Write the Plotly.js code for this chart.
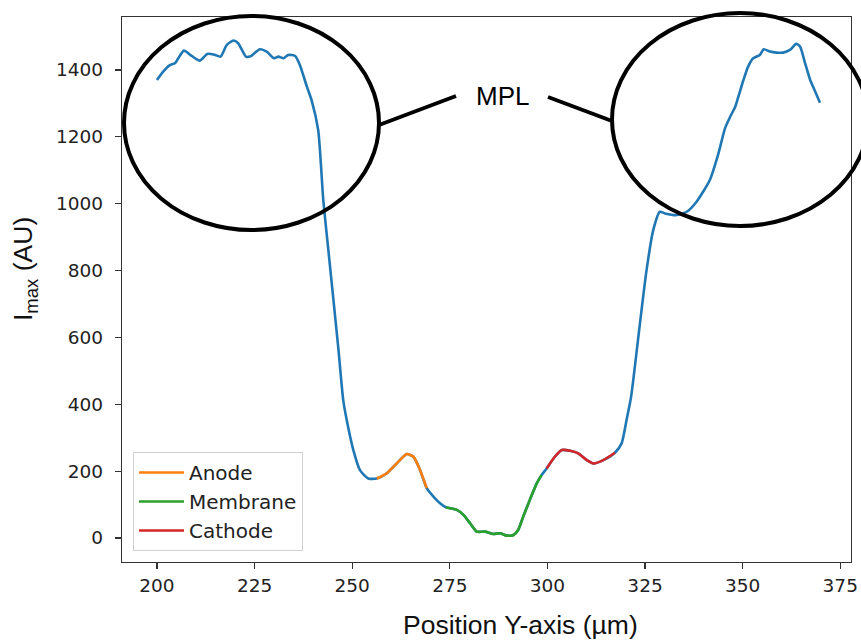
<!DOCTYPE html>
<html>
<head>
<meta charset="utf-8">
<script src="https://cdn.plot.ly/plotly-3.0.1.min.js"></script>
<style>html,body{margin:0;padding:0;background:#fff;}#chart{width:861px;height:640px;}</style>
</head>
<body>
<div id="chart"></div>
<script>
// Position along Y-axis (µm)
const positionUm = [
  200.0, 201.6, 203.4, 204.6, 206.9, 208.9, 211.0, 212.9, 214.9, 216.3,
  217.9, 219.6, 220.8, 222.8, 223.8, 226.4, 228.1, 230.0, 231.1, 232.4,
  233.6, 235.4, 236.6, 238.4, 239.6, 241.3, 242.6, 243.9, 245.2, 246.5,
  247.7, 248.6, 250.3, 252.0, 254.1, 256.3, 258.8, 261.4, 264.0, 265.7,
  267.4, 269.1, 270.8, 272.5, 274.0, 275.1, 276.8, 278.5, 280.2, 281.9,
  284.0, 286.1, 287.9, 289.6, 291.3, 292.5, 293.8, 295.5, 297.3, 298.5,
  299.8, 301.9, 303.7, 305.8, 307.9, 310.1, 311.8, 314.3, 317.3, 319.0,
  320.3, 321.4, 322.2, 323.7, 325.4, 327.1, 328.8, 330.1, 333.1, 335.7,
  338.2, 341.6, 343.7, 345.5, 346.8, 348.1, 348.9, 350.2, 351.4, 352.7,
  354.4, 355.4, 357.0, 358.7, 360.4, 362.1, 363.7, 364.7, 366.0, 367.3,
  368.6, 369.8
];
// Imax (AU)
const imax = [
  1370, 1395, 1415, 1420, 1458, 1442, 1428, 1448, 1445, 1440,
  1475, 1488, 1480, 1440, 1440, 1462, 1455, 1435, 1440, 1435,
  1445, 1442, 1415, 1350, 1310, 1220, 1011, 861, 712, 562,
  413, 353, 263, 203, 178, 178, 193, 223, 251, 243,
  203, 149, 124, 104, 92, 89, 84, 69, 44, 19,
  19, 12, 14, 7, 9, 24, 64, 114, 164, 188,
  208, 243, 263, 261, 253, 233, 223, 233, 255, 283,
  355, 420, 493, 642, 802, 921, 976, 971, 966, 976,
  1006, 1071, 1146, 1226, 1260, 1290, 1320, 1370, 1410, 1435,
  1445, 1462, 1455, 1452, 1452, 1460, 1478, 1470, 1420, 1370,
  1335, 1302
];
// Layer segments (position range, µm)
const layerNames = ["Anode", "Membrane", "Cathode"];
const anodeRange = [256.3, 269.1];
const membraneRange = [274.0, 298.5];
const cathodeRange = [299.8, 317.3];
const xTicks = [200, 225, 250, 275, 300, 325, 350, 375];
const yTicks = [0, 200, 400, 600, 800, 1000, 1200, 1400];
const xTitle = "Position Y-axis (µm)";
const yTitle = "I<sub>max</sub> (AU)";
const annotationText = "MPL";

function segment(range) {
  const xs = [], ys = [];
  positionUm.forEach((x, i) => {
    if (x >= range[0] - 1e-9 && x <= range[1] + 1e-9) { xs.push(x); ys.push(imax[i]); }
  });
  return {x: xs, y: ys};
}

const colors = ["#ff7f0e", "#2ca02c", "#d62728"];
const ranges = [anodeRange, membraneRange, cathodeRange];
const LW = 2.6;

const traces = [{
  x: positionUm, y: imax, type: "scatter", mode: "lines",
  line: {color: "#1f77b4", width: LW, shape: "spline", smoothing: 0.6},
  showlegend: false, hoverinfo: "skip"
}];
ranges.forEach((r, k) => {
  const s = segment(r);
  traces.push({
    x: s.x, y: s.y, type: "scatter", mode: "lines", name: layerNames[k],
    line: {color: colors[k], width: LW, shape: "spline", smoothing: 0.6}
  });
});

const W = 861, H = 640, L = 122, R = 10, T = 17, B = 78;
const pw = W - L - R, ph = H - T - B;
const px = v => (v - L) / pw;
const py = v => (H - B - v) / ph;

const axisCommon = {
  showgrid: false, zeroline: false, showline: true, mirror: true,
  linecolor: "#333", linewidth: 1.3,
  ticks: "outside", ticklen: 6, tickwidth: 1.2, tickcolor: "#333",
  tickfont: {family: "DejaVu Sans", size: 18.5, color: "#222"}
};

const titleFont = {family: "Liberation Sans", size: 26.5, color: "#111"};
const layout = {
  width: W, height: H,
  margin: {l: L, r: R, t: T, b: B},
  paper_bgcolor: "#fff", plot_bgcolor: "#fff",
  xaxis: Object.assign({}, axisCommon, {
    range: [191.05, 377.75], tickmode: "array", tickvals: xTicks,
    ticklabelstandoff: 0
  }),
  yaxis: Object.assign({}, axisCommon, {
    range: [-71.8, 1558.5], tickmode: "array", tickvals: yTicks,
    ticklabelstandoff: 8
  }),
  showlegend: true,
  legend: {
    x: px(133), y: py(452), xanchor: "left", yanchor: "top",
    bgcolor: "#fff", bordercolor: "#d0d0d0", borderwidth: 1,
    font: {family: "DejaVu Sans", size: 20, color: "#222"},
    itemwidth: 45, tracegroupgap: 0
  },
  shapes: [
    {type: "circle", xref: "paper", yref: "paper", x0: px(124), x1: px(379), y0: py(230), y1: py(16), line: {color: "#000", width: 4}},
    {type: "circle", xref: "paper", yref: "paper", x0: px(612), x1: px(868), y0: py(226), y1: py(13), line: {color: "#000", width: 4}},
    {type: "line", xref: "paper", yref: "paper", x0: px(379), y0: py(125), x1: px(456), y1: py(96), line: {color: "#000", width: 4}},
    {type: "line", xref: "paper", yref: "paper", x0: px(548), y0: py(97), x1: px(612), y1: py(121), line: {color: "#000", width: 4}}
  ],
  annotations: [
    {text: annotationText, xref: "paper", yref: "paper", x: px(502), y: py(96), showarrow: false,
     xanchor: "center", yanchor: "middle", font: {family: "Liberation Sans", size: 26, color: "#000"}},
    {text: xTitle, xref: "paper", yref: "paper", x: px(520), y: py(625), showarrow: false,
     xanchor: "center", yanchor: "middle", font: titleFont},
    {text: yTitle, xref: "paper", yref: "paper", x: px(25), y: py(269), showarrow: false, textangle: -90,
     xanchor: "center", yanchor: "middle", font: titleFont}
  ]
};

Plotly.newPlot("chart", traces, layout, {staticPlot: true, displayModeBar: false});
</script>
</body>
</html>
